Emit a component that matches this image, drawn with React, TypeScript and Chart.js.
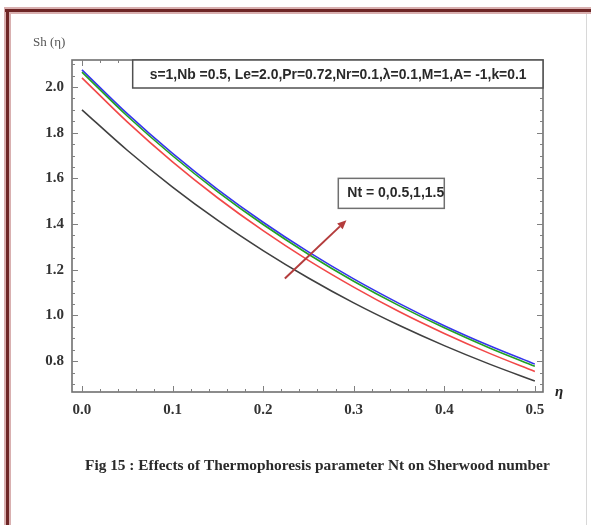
import React, { useEffect, useRef } from "react";
import { Chart, registerables } from "chart.js";

Chart.register(...registerables);

const etaValues = [0, 0.05, 0.1, 0.15, 0.2, 0.25, 0.3, 0.35, 0.4, 0.45, 0.5];
const shNt0 = [1.9, 1.723, 1.562, 1.416, 1.284, 1.164, 1.055, 0.957, 0.868, 0.787, 0.713];
const shNt05 = [2.04, 1.847, 1.672, 1.514, 1.371, 1.241, 1.124, 1.017, 0.921, 0.834, 0.755];
const shNt1 = [2.065, 1.873, 1.699, 1.541, 1.398, 1.268, 1.15, 1.043, 0.946, 0.858, 0.778];
const shNt15 = [2.075, 1.883, 1.709, 1.551, 1.408, 1.278, 1.16, 1.053, 0.955, 0.867, 0.787];

const xTickValues = [0, 0.1, 0.2, 0.3, 0.4, 0.5];
const yTickValues = [0.8, 1.0, 1.2, 1.4, 1.6, 1.8, 2.0];

const paramText = "s=1,Nb =0.5, Le=2.0,Pr=0.72,Nr=0.1,\u03bb=0.1,M=1,A= -1,k=0.1";
const ntText = "Nt = 0,0.5,1,1.5";
const yTitle = "Sh (\u03b7)";
const xTitle = "\u03b7";
const caption = "Fig 15 : Effects of Thermophoresis parameter Nt on Sherwood number";

const arrowFrom = { x: 0.224, y: 1.162 };
const arrowTo = { x: 0.292, y: 1.417 };

const W = 591;
const H = 525;

function fitText(ctx: CanvasRenderingContext2D, text: string, weight: string, family: string, width: number) {
  ctx.font = `${weight} 20px ${family}`;
  const w = ctx.measureText(text).width;
  const size = (20 * width) / w;
  ctx.font = `${weight} ${size.toFixed(2)}px ${family}`;
}

const decorPlugin = {
  id: "decor",
  beforeDraw(chart: any) {
    const ctx = chart.ctx as CanvasRenderingContext2D;
    ctx.save();
    ctx.fillStyle = "#ffffff";
    ctx.fillRect(0, 0, W, H);
    // outer page frame
    ctx.fillStyle = "#d9b0b0";
    ctx.fillRect(4, 7, W - 4, 7);
    ctx.fillRect(4, 7, 7, H - 7);
    ctx.fillStyle = "#6e2626";
    ctx.fillRect(5, 9, W - 5, 3);
    ctx.fillRect(6, 9, 3, H - 9);
    ctx.fillStyle = "#d8d8d8";
    ctx.fillRect(586, 14, 1, H - 14);
    ctx.restore();
  },
  afterDraw(chart: any) {
    const ctx = chart.ctx as CanvasRenderingContext2D;
    const a = chart.chartArea;
    const xs = chart.scales.x;
    const ys = chart.scales.y;
    ctx.save();

    // frame axes
    ctx.strokeStyle = "#707070";
    ctx.lineWidth = 1.6;
    ctx.strokeRect(a.left, a.top, a.right - a.left, a.bottom - a.top);

    // ticks inward
    ctx.strokeStyle = "#808080";
    ctx.lineWidth = 1;
    ctx.beginPath();
    for (let i = 0; i <= 25; i++) {
      const v = i * 0.02;
      const px = Math.round(xs.getPixelForValue(v)) + 0.5;
      const len = i % 5 === 0 ? 6 : 3;
      ctx.moveTo(px, a.bottom);
      ctx.lineTo(px, a.bottom - len);
      ctx.moveTo(px, a.top);
      ctx.lineTo(px, a.top + len);
    }
    for (let i = 0; i <= 30; i++) {
      const v = 0.7 + i * 0.05;
      if (v < ys.min || v > ys.max) continue;
      const py = Math.round(ys.getPixelForValue(v)) + 0.5;
      const major = Math.abs(Math.round(v * 5) - v * 5) < 1e-6;
      const len = major ? 6 : 3;
      ctx.moveTo(a.left, py);
      ctx.lineTo(a.left + len, py);
      ctx.moveTo(a.right, py);
      ctx.lineTo(a.right - len, py);
    }
    ctx.stroke();

    // parameter box
    const bx0 = xs.getPixelForValue(0.056);
    ctx.fillStyle = "#ffffff";
    ctx.fillRect(bx0, a.top, a.right - bx0, 28);
    ctx.strokeStyle = "#505050";
    ctx.lineWidth = 1.5;
    ctx.strokeRect(bx0, a.top, a.right - bx0, 28);
    ctx.fillStyle = "#2a2a2a";
    fitText(ctx, paramText, "bold", "'Liberation Sans', sans-serif", 377);
    ctx.textBaseline = "middle";
    ctx.textAlign = "left";
    ctx.fillText(paramText, bx0 + 17, a.top + 15);

    // Nt box
    const nx0 = xs.getPixelForValue(0.283);
    const ny0 = ys.getPixelForValue(1.6);
    ctx.strokeStyle = "#707070";
    ctx.lineWidth = 1.5;
    ctx.strokeRect(nx0, ny0, 106, 30);
    ctx.fillStyle = "#2a2a2a";
    fitText(ctx, ntText, "bold", "'Liberation Sans', sans-serif", 97);
    ctx.fillText(ntText, nx0 + 9, ny0 + 15);

    // arrow
    const ax0 = xs.getPixelForValue(arrowFrom.x);
    const ay0 = ys.getPixelForValue(arrowFrom.y);
    const ax1 = xs.getPixelForValue(arrowTo.x);
    const ay1 = ys.getPixelForValue(arrowTo.y);
    const ang = Math.atan2(ay1 - ay0, ax1 - ax0);
    const hl = 9;
    const hw = 4;
    ctx.strokeStyle = "#b43c3c";
    ctx.fillStyle = "#b43c3c";
    ctx.lineWidth = 2;
    ctx.beginPath();
    ctx.moveTo(ax0, ay0);
    ctx.lineTo(ax1 - hl * Math.cos(ang), ay1 - hl * Math.sin(ang));
    ctx.stroke();
    ctx.beginPath();
    ctx.moveTo(ax1, ay1);
    ctx.lineTo(ax1 - hl * Math.cos(ang) + hw * Math.sin(ang), ay1 - hl * Math.sin(ang) - hw * Math.cos(ang));
    ctx.lineTo(ax1 - hl * Math.cos(ang) - hw * Math.sin(ang), ay1 - hl * Math.sin(ang) + hw * Math.cos(ang));
    ctx.closePath();
    ctx.fill();

    // axis titles
    ctx.fillStyle = "#555555";
    ctx.font = "13px 'Liberation Serif', serif";
    ctx.textAlign = "left";
    ctx.textBaseline = "middle";
    ctx.fillText(yTitle, 33, 43);
    ctx.fillStyle = "#222222";
    ctx.font = "italic bold 15px 'Liberation Serif', serif";
    ctx.fillText(xTitle, a.right + 12, a.bottom);

    // caption
    ctx.fillStyle = "#2a2a2a";
    fitText(ctx, caption, "bold", "'Liberation Serif', serif", 465);
    ctx.textAlign = "left";
    ctx.fillText(caption, 85, 466);

    ctx.restore();
  },
};

export default function App() {
  const ref = useRef<HTMLCanvasElement | null>(null);
  useEffect(() => {
    if (!ref.current) return;
    const mk = (vals: number[]) => etaValues.map((x, i) => ({ x, y: vals[i] }));
    const ds = (label: string, vals: number[], color: string) => ({
      label,
      data: mk(vals),
      borderColor: color,
      backgroundColor: color,
      borderWidth: 1.6,
      pointRadius: 0,
      fill: false,
      cubicInterpolationMode: "monotone" as const,
    });
    const chart = new Chart(ref.current, {
      type: "line",
      data: {
        datasets: [
          ds("Nt=0", shNt0, "#404040"),
          ds("Nt=0.5", shNt05, "#f24848"),
          ds("Nt=1", shNt1, "#22a022"),
          ds("Nt=1.5", shNt15, "#3535ee"),
        ],
      },
      options: {
        responsive: false,
        animation: false,
        layout: { padding: { top: 60, right: 48, bottom: 0, left: 0 } },
        plugins: { legend: { display: false }, tooltip: { enabled: false } },
        scales: {
          x: {
            type: "linear",
            min: -0.011,
            max: 0.509,
            grid: { display: false, drawTicks: false },
            border: { display: false },
            afterBuildTicks: (s: any) => {
              s.ticks = xTickValues.map((v) => ({ value: v }));
            },
            afterFit: (s: any) => {
              s.height = 133;
            },
            ticks: {
              padding: 9,
              color: "#333333",
              font: { family: "'Liberation Serif', serif", size: 15, weight: "bold" },
              callback: (v: any) => Number(v).toFixed(1),
            },
          },
          y: {
            type: "linear",
            min: 0.665,
            max: 2.118,
            grid: { display: false, drawTicks: false },
            border: { display: false },
            afterBuildTicks: (s: any) => {
              s.ticks = yTickValues.map((v) => ({ value: v }));
            },
            afterFit: (s: any) => {
              s.width = 72;
            },
            ticks: {
              padding: 8,
              color: "#333333",
              font: { family: "'Liberation Serif', serif", size: 15, weight: "bold" },
              callback: (v: any) => Number(v).toFixed(1),
            },
          },
        },
      },
      plugins: [decorPlugin],
    });
    return () => chart.destroy();
  }, []);
  return (
    <div style={{ position: "absolute", left: 0, top: 0, width: W, height: H, background: "#fff" }}>
      <canvas ref={ref} width={W} height={H} style={{ display: "block", width: W, height: H }} />
    </div>
  );
}
